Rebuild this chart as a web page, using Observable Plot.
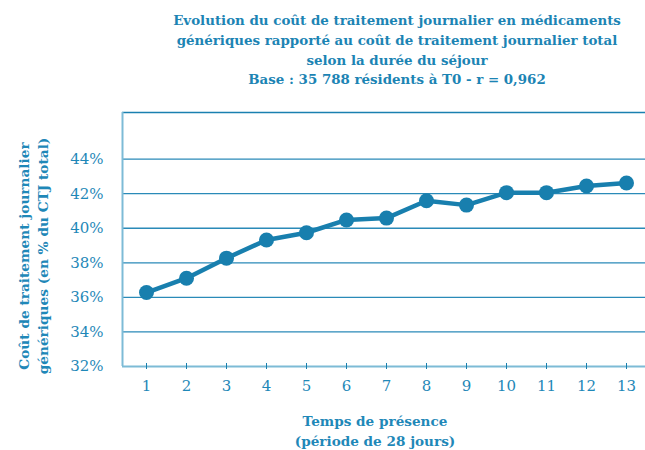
<!DOCTYPE html>
<html>
<head>
<meta charset="utf-8">
<script src="https://cdn.jsdelivr.net/npm/d3@7"></script>
<script src="https://cdn.jsdelivr.net/npm/@observablehq/plot@0.6"></script>
<style>
  html, body { margin: 0; padding: 0; background: #fff; }
  body { width: 645px; height: 450px; overflow: hidden; position: relative; }
  #title {
    position: absolute; left: 121px; width: 552px; top: 11px;
    text-align: center; font-family: "DejaVu Serif", serif; font-weight: bold;
    font-size: 13.4px; line-height: 19.8px; color: #1c84b4;
  }
  #chart { position: absolute; left: 0; top: 90px; }
</style>
</head>
<body>
<div id="title">
  Evolution du coût de traitement journalier en médicaments<br>
  génériques rapporté au coût de traitement journalier total<br>
  selon la durée du séjour<br>
  Base : 35 788 résidents à T0 - r = 0,962
</div>
<div id="chart"></div>
<script>
const periods = [1, 2, 3, 4, 5, 6, 7, 8, 9, 10, 11, 12, 13];
const shares = [36.28, 37.11, 38.27, 39.32, 39.74, 40.48, 40.59, 41.59, 41.34, 42.06, 42.06, 42.45, 42.62];
const yTicks = [32, 34, 36, 38, 40, 42, 44];
const gridLines = [34, 36, 38, 40, 42, 44];
const yLabelLines = ["Coût de traitement journalier", "génériques (en % du CTJ total)"];
const xLabelLines = ["Temps de présence", "(période de 28 jours)"];

const data = periods.map((p, i) => ({period: p, share: shares[i]}));

const blue = "#187fae";
const light = "#7dbbd6";
const textBlue = "#1f88b8";
const font = "DejaVu Serif";

const chart = Plot.plot({
  width: 645,
  height: 360,
  marginLeft: 122,
  marginRight: 0,
  marginTop: 22,
  marginBottom: 84,
  style: {fontFamily: font, background: "white"},
  x: {domain: [0.4, 13.475]},
  y: {domain: [32, 46.7]},
  marks: [
    Plot.ruleY(gridLines, {y: d => d, stroke: "#2a8ab8", strokeWidth: 1.3}),
    Plot.ruleY([46.7], {y: d => d, stroke: "#1a80b0", strokeWidth: 1.5}),
    Plot.ruleX([0.4], {x: d => d, stroke: light, strokeWidth: 2}),
    Plot.ruleY([32], {y: d => d, stroke: light, strokeWidth: 2}),
    Plot.ruleX(periods, {x: d => d, y1: 32, y2: 32, insetTop: -3, insetBottom: -3, stroke: blue, strokeWidth: 1}),
    Plot.axisY({ticks: yTicks, tickFormat: d => d + "%", tickSize: 0, tickPadding: 19,
      fontSize: 15, color: textBlue, label: null}),
    Plot.axisX({ticks: periods, tickFormat: d => String(d), tickSize: 0, tickPadding: 14,
      fontSize: 15, color: textBlue, label: null}),
    Plot.line(data, {x: "period", y: "share", stroke: blue, strokeWidth: 4.5, strokeLinejoin: "round"}),
    Plot.dot(data, {x: "period", y: "share", r: 7.5, fill: blue, stroke: "none"})
  ]
});
document.getElementById("chart").appendChild(chart);

// axis titles as SVG text
const svg = d3.select(chart);
const yl = svg.append("text")
  .attr("transform", "translate(29,166) rotate(-90)")
  .attr("text-anchor", "middle")
  .attr("font-family", font).attr("font-weight", "bold").attr("font-size", 13.7)
  .attr("fill", textBlue);
yLabelLines.forEach((t, i) => yl.append("tspan").attr("x", 0).attr("dy", i === 0 ? 0 : 19).text(t));

const xl = svg.append("text")
  .attr("transform", "translate(375,336)")
  .attr("text-anchor", "middle")
  .attr("font-family", font).attr("font-weight", "bold").attr("font-size", 13.6)
  .attr("fill", textBlue);
xLabelLines.forEach((t, i) => xl.append("tspan").attr("x", 0).attr("dy", i === 0 ? 0 : 20).text(t));
</script>
</body>
</html>
